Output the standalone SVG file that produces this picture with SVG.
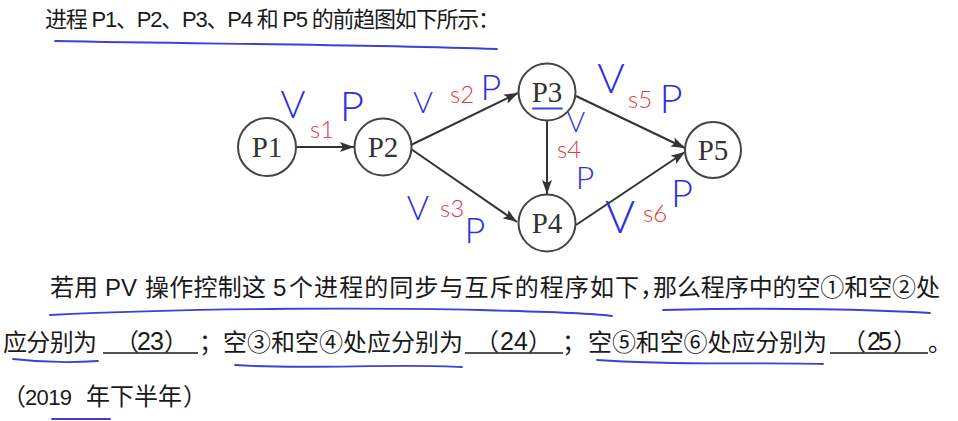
<svg xmlns="http://www.w3.org/2000/svg" width="958" height="421" viewBox="0 0 958 421">
<style>
.t{font-family:"Liberation Sans","Noto Sans CJK SC",sans-serif;fill:#1a1a1a}
.t1{font-size:22px}
.t2{font-size:24px}
.pa{font-family:"Noto Sans CJK SC",sans-serif;font-size:24px;fill:#1a1a1a}
.node circle{fill:#fff;stroke:#444;stroke-width:2}
.node text{font-family:"Liberation Serif","Noto Serif",serif;font-size:29px;fill:#333;text-anchor:middle}
.edge{stroke:#333;stroke-width:2;fill:none}
.hb{font-family:Lato,"Liberation Sans",sans-serif;font-weight:300;fill:#2f2fe0;text-anchor:middle}
.hr{font-family:Lato,"Liberation Sans",sans-serif;font-weight:300;fill:#e8353b;text-anchor:middle;font-size:24px}
.ub{stroke:#4040d8;stroke-width:1.8;fill:none;stroke-linecap:round}
.blank{stroke:#1a1a1a;stroke-width:1.5}
</style>
<defs>
<marker id="ah" markerUnits="userSpaceOnUse" markerWidth="16" markerHeight="12" refX="14" refY="5" orient="auto">
<path d="M0,0 L14,5 L0,10 L3,5 z" fill="#333"/>
</marker>
</defs>
<rect width="958" height="421" fill="#fff"/>

<text class="t t1" x="45" y="27" textLength="455">进程 P1、P2、P3、P4 和 P5 的前趋图如下所示：</text>

<g id="connectors">
<line class="edge" x1="297" y1="147" x2="354" y2="147" marker-end="url(#ah)"/>
<line class="edge" x1="411" y1="145" x2="518" y2="93" marker-end="url(#ah)"/>
<line class="edge" x1="411" y1="149" x2="517" y2="222" marker-end="url(#ah)"/>
<line class="edge" x1="547" y1="121" x2="547" y2="194" marker-end="url(#ah)"/>
<line class="edge" x1="576" y1="96" x2="685" y2="148" marker-end="url(#ah)"/>
<line class="edge" x1="576" y1="225" x2="685" y2="152" marker-end="url(#ah)"/>
</g>

<g id="P1" class="node"><circle cx="267" cy="147" r="29"/><text x="267" y="157">P1</text></g>
<g id="P2" class="node"><circle cx="383" cy="147" r="28.5"/><text x="383" y="157">P2</text></g>
<g id="P3" class="node"><circle cx="547" cy="92" r="28.5"/><text x="547" y="102">P3</text></g>
<g id="P4" class="node"><circle cx="547" cy="223" r="28.5"/><text x="547" y="233">P4</text></g>
<g id="P5" class="node"><circle cx="713" cy="150" r="28"/><text x="713" y="160">P5</text></g>

<g id="annotations">
<path class="ub" d="M533,108.5 L562,108.5"/>
<text class="hb" x="293" y="118" font-size="38">V</text>
<text class="hr" x="322" y="138">s1</text>
<text class="hb" x="352" y="121" font-size="42">P</text>
<text class="hb" x="423" y="113" font-size="30">V</text>
<text class="hr" x="462" y="103">s2</text>
<text class="hb" x="491" y="100" font-size="36">P</text>
<text class="hb" x="576" y="132" font-size="28">V</text>
<text class="hr" x="569" y="158">s4</text>
<text class="hb" x="585" y="189" font-size="32">P</text>
<text class="hb" x="418" y="220" font-size="34">V</text>
<text class="hr" x="452" y="217">s3</text>
<text class="hb" x="475" y="243" font-size="36">P</text>
<text class="hb" x="611" y="93" font-size="42">V</text>
<text class="hr" x="640" y="108">s5</text>
<text class="hb" x="671" y="113" font-size="40">P</text>
<text class="hb" x="620" y="233" font-size="46">V</text>
<text class="hr" x="655" y="222">s6</text>
<text class="hb" x="682" y="207" font-size="38">P</text>
</g>

<text class="t t2" x="50" y="296" textLength="48">若用</text>
<text class="t t2" x="105" y="296">PV</text>
<text class="t t2" x="145" y="296" textLength="121">操作控制这</text>
<text class="t t2" x="273" y="296">5</text>
<text class="t t2" x="289" y="296" textLength="350">个进程的同步与互斥的程序如下</text>
<text class="pa" x="640" y="296">，</text>
<text class="t t2" x="653" y="296" textLength="287">那么程序中的空①和空②处</text>

<text class="t t2" x="3" y="351" textLength="94">应分别为</text>
<line class="blank" x1="103" y1="353" x2="198" y2="353"/>
<text class="pa" x="115" y="350">（</text>
<text class="t" x="137" y="350" font-size="25" textLength="27">23</text>
<text class="pa" x="164" y="350">）</text>
<text class="pa" x="199" y="351">；</text>
<text class="t t2" x="223" y="351" textLength="240">空③和空④处应分别为</text>
<line class="blank" x1="465" y1="353" x2="563" y2="353"/>
<text class="pa" x="475" y="350">（</text>
<text class="t" x="500" y="350" font-size="25" textLength="28">24</text>
<text class="pa" x="528" y="350">）</text>
<text class="pa" x="562" y="351">；</text>
<text class="t t2" x="588" y="351" textLength="239">空⑤和空⑥处应分别为</text>
<line class="blank" x1="830" y1="353" x2="928" y2="353"/>
<text class="pa" x="842" y="350">（</text>
<text class="t" x="867" y="350" font-size="25" textLength="25">25</text>
<text class="pa" x="893" y="350">）</text>
<text class="pa" x="928" y="351">。</text>

<text class="pa" x="2" y="405">（</text>
<text class="t" x="25" y="405" font-size="22" textLength="47">2019</text>
<text class="t t2" x="86" y="405" textLength="96">年下半年</text>
<text class="pa" x="183" y="405">）</text>

<g id="underlines">
<path class="ub" d="M55,41 C200,44 350,44 497,49"/>
<path class="ub" d="M50,315 C200,307 400,308 480,310 S600,314 612,316"/>
<path class="ub" d="M663,310 C780,307 880,310 930,313"/>
<path class="ub" d="M13,359 Q55,364 98,361"/>
<path class="ub" d="M235,365 C300,370 400,363 462,367"/>
<path class="ub" d="M597,360 C680,366 760,362 823,364"/>
<path class="ub" d="M52,419 L110,419"/>
</g>
</svg>
